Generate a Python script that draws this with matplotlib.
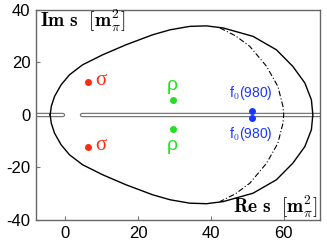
import matplotlib
matplotlib.use('Agg')
import matplotlib.pyplot as plt

plt.rcParams['mathtext.fontset'] = 'cm'
plt.rcParams['axes.unicode_minus'] = False
plt.rcParams['font.family'] = ['Liberation Sans', 'DejaVu Sans']

# upper half of the solid boundary (mirrored below)
solid_x = [-4.1, -3.8, -2.9, -1.1, 1.2, 4.8, 10.3, 16.7, 24.0, 28.8, 34.2, 38.8,
           43.4, 51.6, 58.0, 62.5, 65.8, 67.6, 68.0]
solid_y = [0.0, 3.2, 7.0, 11.4, 15.2, 19.0, 22.8, 26.6, 30.4, 32.3, 33.6, 33.8,
           33.0, 29.8, 24.7, 18.4, 12.1, 5.7, 0.0]

# dash-dotted arc (upper half)
dd_x = [42.5, 46.8, 50.7, 55.3, 58.4, 59.8, 60.0]
dd_y = [33.0, 30.0, 26.0, 18.4, 10.8, 3.2, 0.0]

# resonance poles
sigma = (6.2, 12.4)
rho = (29.5, 5.5)
f0 = (51.4, 1.4)

# cuts on the real axis
cut_left = [-8.0, -0.5]
cut_right = [4.6, 70.0]

fig = plt.figure(figsize=(3.27, 2.45), dpi=100)
ax = fig.add_axes([0.110, 0.102, 0.869, 0.859])

for c in (cut_left, cut_right):
    ax.plot(c, [0, 0], color='#777777', lw=3.2, solid_capstyle='round', zorder=2)
    ax.plot(c, [0, 0], color='white', lw=1.4, solid_capstyle='round', zorder=2)

full_x = solid_x + solid_x[::-1]
full_y = solid_y + [-v for v in solid_y[::-1]]
ax.plot(full_x, full_y, color='black', lw=1.0, zorder=3)
ax.plot(dd_x + dd_x[::-1], dd_y + [-v for v in dd_y[::-1]], color='black', lw=0.8,
        ls=(0, (5, 2, 1, 2)), zorder=3)

red = '#ff2a10'
green = '#22e022'
blue = '#1838ff'
for s in (1, -1):
    ax.plot(sigma[0], s * sigma[1], 'o', color=red, ms=4, zorder=4)
    ax.text(sigma[0] + 2.2, s * sigma[1] + 0.6, 'σ', color=red, fontsize=15,
            family=['Liberation Serif', 'DejaVu Serif'], ha='left', va='center')
    ax.plot(rho[0], s * rho[1], 'o', color=green, ms=4, zorder=4)
    ax.plot(f0[0], s * f0[1], 'o', color=blue, ms=4, zorder=4)
ax.text(rho[0], 11.0, 'ρ', color=green, fontsize=14, ha='center', va='center')
ax.text(rho[0], -11.6, 'ρ', color=green, fontsize=14, ha='center', va='center')
ax.text(f0[0] - 0.5, 8.2, r'f$_0$(980)', color=blue, fontsize=10, ha='center', va='center')
ax.text(f0[0] - 0.5, -7.4, r'f$_0$(980)', color=blue, fontsize=10, ha='center', va='center')

ax.text(-7.0, 35.5, r'$\mathbf{Im\ s}\ \ [\mathbf{m}_\pi^\mathbf{2}]$', fontsize=14,
        ha='left', va='center')
ax.text(69.5, -35.0, r'$\mathbf{Re\ s}\ \ [\mathbf{m}_\pi^\mathbf{2}]$', fontsize=14,
        ha='right', va='center')

ax.set_xlim(-8, 70)
ax.set_ylim(-40, 40)
ax.set_xticks([0, 20, 40, 60])
ax.set_yticks([-40, -20, 0, 20, 40])
ax.tick_params(direction='in', length=3, color='#777777', labelsize=12, pad=4)
for sp in ax.spines.values():
    sp.set_color('#666666')
    sp.set_linewidth(1.0)

fig.savefig('out.png', dpi=100)
